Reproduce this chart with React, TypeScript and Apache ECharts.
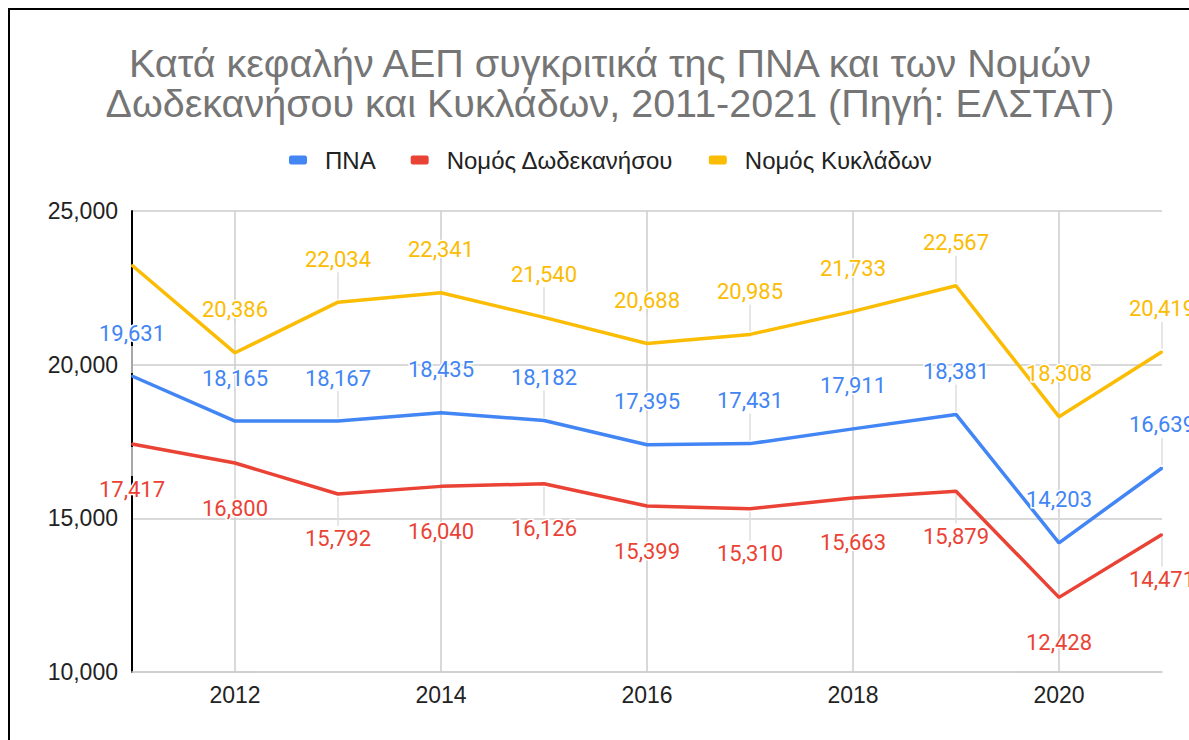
import React, { useEffect, useRef } from "react";
import * as echarts from "echarts";

const years = ["2011", "2012", "2013", "2014", "2015", "2016", "2017", "2018", "2019", "2020", "2021"];
const pnaValues = [19631, 18165, 18167, 18435, 18182, 17395, 17431, 17911, 18381, 14203, 16639];
const dodecaneseValues = [17417, 16800, 15792, 16040, 16126, 15399, 15310, 15663, 15879, 12428, 14471];
const cycladesValues = [23235, 20386, 22034, 22341, 21540, 20688, 20985, 21733, 22567, 18308, 20419];
const seriesNames = ["ΠΝΑ", "Νομός Δωδεκανήσου", "Νομός Κυκλάδων"];
const seriesColors = ["#4285F4", "#EA4335", "#FBBC04"];
const hiddenLabels: Record<string, number[]> = { "Νομός Κυκλάδων": [0] };

const titleText = "Κατά κεφαλήν ΑΕΠ συγκριτικά της ΠΝΑ και των Νομών\nΔωδεκανήσου και Κυκλάδων, 2011-2021 (Πηγή: ΕΛΣΤΑΤ)";

const fmt = (v: number) => v.toLocaleString("en-US");
const LABEL_FONT = "Roboto, 'Noto Sans', sans-serif";
const TEXT_FONT = "'Liberation Sans', Arial, sans-serif";

function makeSeries(name: string, values: number[], color: string, pos: "top" | "bottom") {
  const hidden = hiddenLabels[name] || [];
  return {
    name,
    type: "line",
    z: 3,
    data: values.map((v, i) => (hidden.includes(i) ? { value: v, label: { show: false } } : v)),
    showSymbol: true,
    symbol: "circle",
    symbolSize: 2,
    itemStyle: { color },
    lineStyle: { color, width: 3.5 },
    label: {
      show: true,
      position: pos,
      distance: pos === "top" ? 31 : 33,
      color,
      fontSize: 22,
      fontFamily: LABEL_FONT,
      textBorderColor: "#fff",
      textBorderWidth: 3,
      formatter: (p: any) => fmt(p.value),
    },
    emphasis: { disabled: true },
  };
}

function makeLeaders(name: string, values: number[], pos: "top" | "bottom") {
  const hidden = hiddenLabels[name] || [];
  const dir = pos === "top" ? -1 : 1;
  const far = pos === "top" ? 30 : 32;
  return {
    type: "custom",
    z: 1,
    silent: true,
    data: values.map((v, i) => [i, v]).filter((_, i) => !hidden.includes(i)),
    renderItem: (_params: any, api: any) => {
      const c = api.coord([api.value(0), api.value(1)]);
      return {
        type: "line",
        shape: { x1: c[0], y1: c[1] + dir * 3, x2: c[0], y2: c[1] + dir * far },
        style: { stroke: "#dedede", lineWidth: 1.5 },
      };
    },
  };
}

export default function App() {
  const ref = useRef<HTMLDivElement>(null);
  useEffect(() => {
    if (!ref.current) return;
    const chart = echarts.init(ref.current, undefined, { renderer: "svg" });
    chart.setOption({
      animation: false,
      backgroundColor: "#fff",
      title: {
        text: titleText,
        left: 605,
        textAlign: "center",
        top: 38,
        textStyle: { fontSize: 39.5, lineHeight: 40, color: "#757575", fontWeight: "normal", fontFamily: TEXT_FONT },
      },
      legend: {
        data: seriesNames,
        left: 284,
        top: 143,
        icon: "roundRect",
        itemWidth: 18,
        itemHeight: 9,
        itemGap: 35,
        textStyle: { fontSize: 24, color: "#222", fontFamily: TEXT_FONT, padding: [0, 0, 0, 13] },
      },
      grid: { left: 132, right: 27, top: 211, bottom: 68, containLabel: false },
      xAxis: {
        type: "category",
        data: years,
        boundaryGap: false,
        axisLine: { show: true, lineStyle: { color: "#cccccc", width: 1.5 } },
        axisTick: { show: false },
        axisLabel: {
          interval: (i: number) => i % 2 === 1,
          fontSize: 23,
          color: "#222",
          margin: 11,
          fontFamily: TEXT_FONT,
        },
        splitLine: {
          show: true,
          interval: (i: number) => i % 2 === 1,
          lineStyle: { color: "#cccccc", width: 1.5 },
        },
      },
      yAxis: {
        type: "value",
        min: 10000,
        max: 25000,
        interval: 5000,
        axisLine: { show: true, lineStyle: { color: "#000", width: 2 } },
        axisTick: { show: false },
        axisLabel: {
          fontSize: 23,
          color: "#222",
          margin: 14,
          fontFamily: TEXT_FONT,
          formatter: (v: number) => fmt(v),
        },
        splitLine: { show: true, lineStyle: { color: "#cccccc", width: 1.5 } },
      },
      series: [
        makeLeaders(seriesNames[0], pnaValues, "top"),
        makeLeaders(seriesNames[1], dodecaneseValues, "bottom"),
        makeLeaders(seriesNames[2], cycladesValues, "top"),
        makeSeries(seriesNames[0], pnaValues, seriesColors[0], "top"),
        makeSeries(seriesNames[1], dodecaneseValues, seriesColors[1], "bottom"),
        makeSeries(seriesNames[2], cycladesValues, seriesColors[2], "top"),
      ],
    });
    return () => chart.dispose();
  }, []);
  return (
    <div style={{ position: "fixed", left: 0, top: 0, width: 1189, height: 740, overflow: "hidden", background: "#fff" }}>
      <div ref={ref} style={{ position: "absolute", left: 0, top: 0, width: 1189, height: 740 }} />
      <div
        style={{
          position: "absolute",
          left: 8,
          top: 8,
          width: 1300,
          height: 900,
          borderLeft: "2px solid #000",
          borderTop: "2px solid #000",
          pointerEvents: "none",
        }}
      />
    </div>
  );
}
